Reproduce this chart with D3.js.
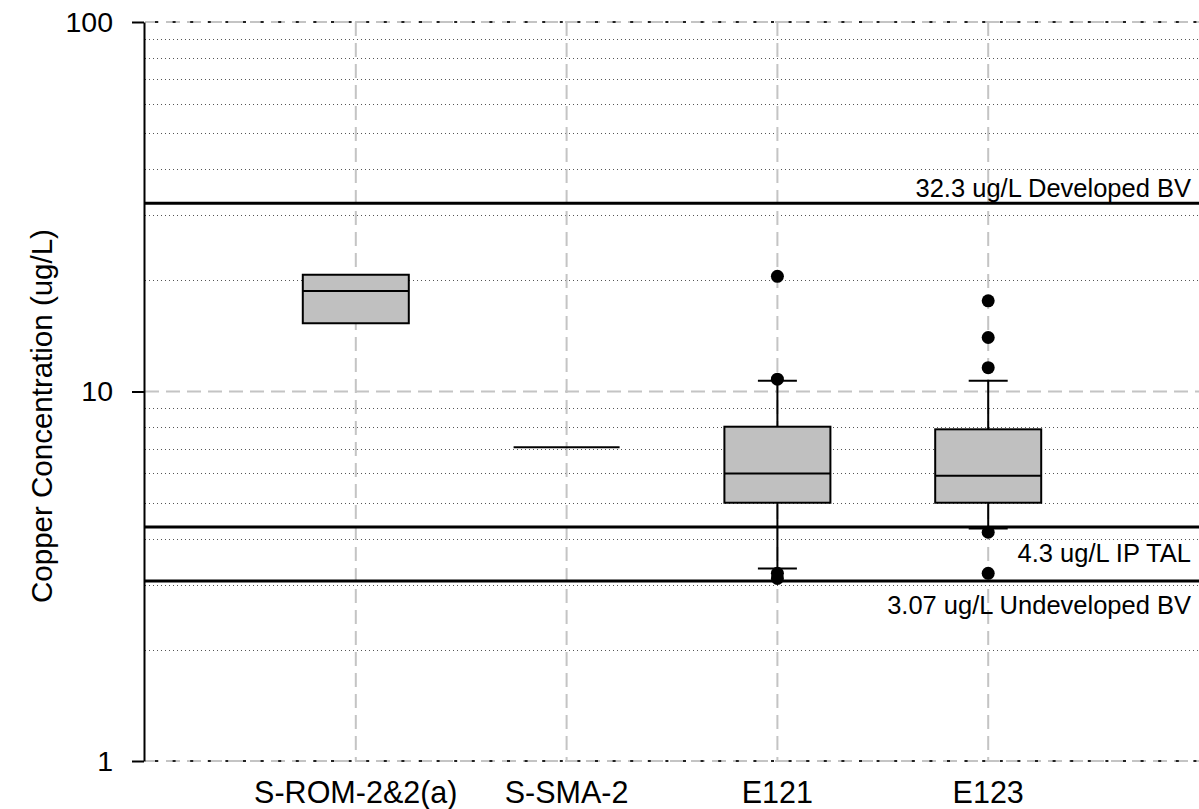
<!DOCTYPE html>
<html>
<head>
<meta charset="utf-8">
<script src="https://cdn.jsdelivr.net/npm/d3@7"></script>
<style>
  body { margin: 0; background: #fff; }
  text { font-family: "Liberation Sans", Arial, sans-serif; fill: #000; }
</style>
</head>
<body>
<div id="container"></div>
<script>
/* CONSTANTS AND GLOBALS */
const width = 1199, height = 809;
const margin = { top: 22, bottom: 48, left: 145, right: 0 };

/* DATA */
const categories = ["S-ROM-2&2(a)", "S-SMA-2", "E121", "E123"];
const q1 = [15.3, 7.06, 5.0, 5.0];
const medians = [18.7, 7.06, 6.0, 5.92];
const q3 = [20.7, 7.06, 8.03, 7.9];
const whiskerLow = [null, null, 3.32, 4.26];
const whiskerHigh = [null, null, 10.7, 10.7];
const outliers = [[], [], [20.5, 10.8, 3.22, 3.12], [17.6, 14.0, 11.6, 4.16, 3.22]];

const refValues = [32.3, 4.3, 3.07];
const refLabels = ["32.3 ug/L Developed BV", "4.3 ug/L IP TAL", "3.07 ug/L Undeveloped BV"];
const refLabelDy = [-6, 35, 33];

const yTicks = [1, 10, 100];
const yTitle = "Copper Concentration (ug/L)";

/* SCALES */
const xScale = d3.scalePoint()
  .domain(categories)
  .range([margin.left, width - margin.right])
  .padding(1);

const yScale = d3.scaleLog()
  .domain([1, 100])
  .range([height - margin.bottom, margin.top]);

const boxW = 106, capW = 39;

const svg = d3.select("#container").append("svg")
  .attr("width", width)
  .attr("height", height);

// minor grid (dotted)
const minor = [];
[1, 10].forEach(d => { for (let k = 2; k <= 9; k++) minor.push(d * k); });
svg.append("g").selectAll("line").data(minor).join("line")
  .attr("x1", margin.left).attr("x2", width)
  .attr("y1", d => Math.round(yScale(d)) + 0.5).attr("y2", d => Math.round(yScale(d)) + 0.5)
  .attr("stroke", "#555").attr("stroke-width", 1).attr("stroke-dasharray", "1,3");

// major grid (dashed gray)
svg.append("g").selectAll("line").data(yTicks).join("line")
  .attr("x1", margin.left).attr("x2", width)
  .attr("y1", d => yScale(d)).attr("y2", d => yScale(d))
  .attr("stroke", "#c4c4c4").attr("stroke-width", 2).attr("stroke-dasharray", "14,7");

svg.append("g").selectAll("line").data([1, 100]).join("line")
  .attr("x1", margin.left + 10).attr("x2", width)
  .attr("y1", d => yScale(d)).attr("y2", d => yScale(d))
  .attr("stroke", "#222").attr("stroke-width", 2).attr("stroke-dasharray", "3,14.6");

svg.append("g").selectAll("line").data(categories).join("line")
  .attr("x1", d => xScale(d)).attr("x2", d => xScale(d))
  .attr("y1", margin.top).attr("y2", height - margin.bottom)
  .attr("stroke", "#c4c4c4").attr("stroke-width", 2).attr("stroke-dasharray", "14,7");

// reference lines
svg.append("g").selectAll("line").data(refValues).join("line")
  .attr("x1", margin.left).attr("x2", width)
  .attr("y1", d => yScale(d)).attr("y2", d => yScale(d))
  .attr("stroke", "#000").attr("stroke-width", 3);

svg.append("g").selectAll("text").data(refValues).join("text")
  .attr("x", 1191)
  .attr("y", (d, i) => yScale(d) + refLabelDy[i])
  .attr("text-anchor", "end")
  .style("font-size", "25.5px")
  .text((d, i) => refLabels[i]);

// boxes
const boxes = categories.map((c, i) => ({
  c, q1: q1[i], med: medians[i], q3: q3[i], lo: whiskerLow[i], hi: whiskerHigh[i], out: outliers[i]
}));

const g = svg.append("g");
boxes.forEach(b => {
  const cx = xScale(b.c);
  if (b.lo != null) {
    g.append("line").attr("x1", cx).attr("x2", cx)
      .attr("y1", yScale(b.q1)).attr("y2", yScale(b.lo))
      .attr("stroke", "#000").attr("stroke-width", 2);
    g.append("line").attr("x1", cx - capW / 2).attr("x2", cx + capW / 2)
      .attr("y1", yScale(b.lo)).attr("y2", yScale(b.lo))
      .attr("stroke", "#000").attr("stroke-width", 2);
  }
  if (b.hi != null) {
    g.append("line").attr("x1", cx).attr("x2", cx)
      .attr("y1", yScale(b.q3)).attr("y2", yScale(b.hi))
      .attr("stroke", "#000").attr("stroke-width", 2);
    g.append("line").attr("x1", cx - capW / 2).attr("x2", cx + capW / 2)
      .attr("y1", yScale(b.hi)).attr("y2", yScale(b.hi))
      .attr("stroke", "#000").attr("stroke-width", 2);
  }
  if (b.q3 > b.q1) {
    g.append("rect")
      .attr("x", cx - boxW / 2).attr("width", boxW)
      .attr("y", yScale(b.q3)).attr("height", yScale(b.q1) - yScale(b.q3))
      .attr("fill", "#c0c0c0").attr("stroke", "#000").attr("stroke-width", 2);
  }
  g.append("line").attr("x1", cx - boxW / 2).attr("x2", cx + boxW / 2)
    .attr("y1", yScale(b.med)).attr("y2", yScale(b.med))
    .attr("stroke", "#000").attr("stroke-width", 2);
  g.selectAll(null).data(b.out).join("circle")
    .attr("cx", cx).attr("cy", d => yScale(d)).attr("r", 6.5)
    .attr("fill", "#000");
});

// y axis
const yAxis = d3.axisLeft(yScale).tickValues(yTicks).tickFormat(d3.format("d"))
  .tickSize(12).tickSizeOuter(0).tickPadding(19);
const ya = svg.append("g")
  .attr("transform", `translate(${margin.left - 1},0)`)
  .call(yAxis);
ya.select(".domain").attr("stroke", "#000").attr("stroke-width", 2);
ya.selectAll(".tick line").attr("stroke", "#000").attr("stroke-width", 2);
ya.selectAll(".tick text").style("font-size", "28.5px").attr("fill", "#000")
  .style("font-family", "'Liberation Sans', Arial, sans-serif");

// x labels
svg.append("g").selectAll("text").data(categories).join("text")
  .attr("x", d => xScale(d))
  .attr("y", 803)
  .attr("text-anchor", "middle")
  .style("font-size", "30.5px")
  .text(d => d);

// y title
svg.append("text")
  .attr("transform", "translate(52,416) rotate(-90)")
  .attr("text-anchor", "middle")
  .style("font-size", "29.5px")
  .text(yTitle);
</script>
</body>
</html>
